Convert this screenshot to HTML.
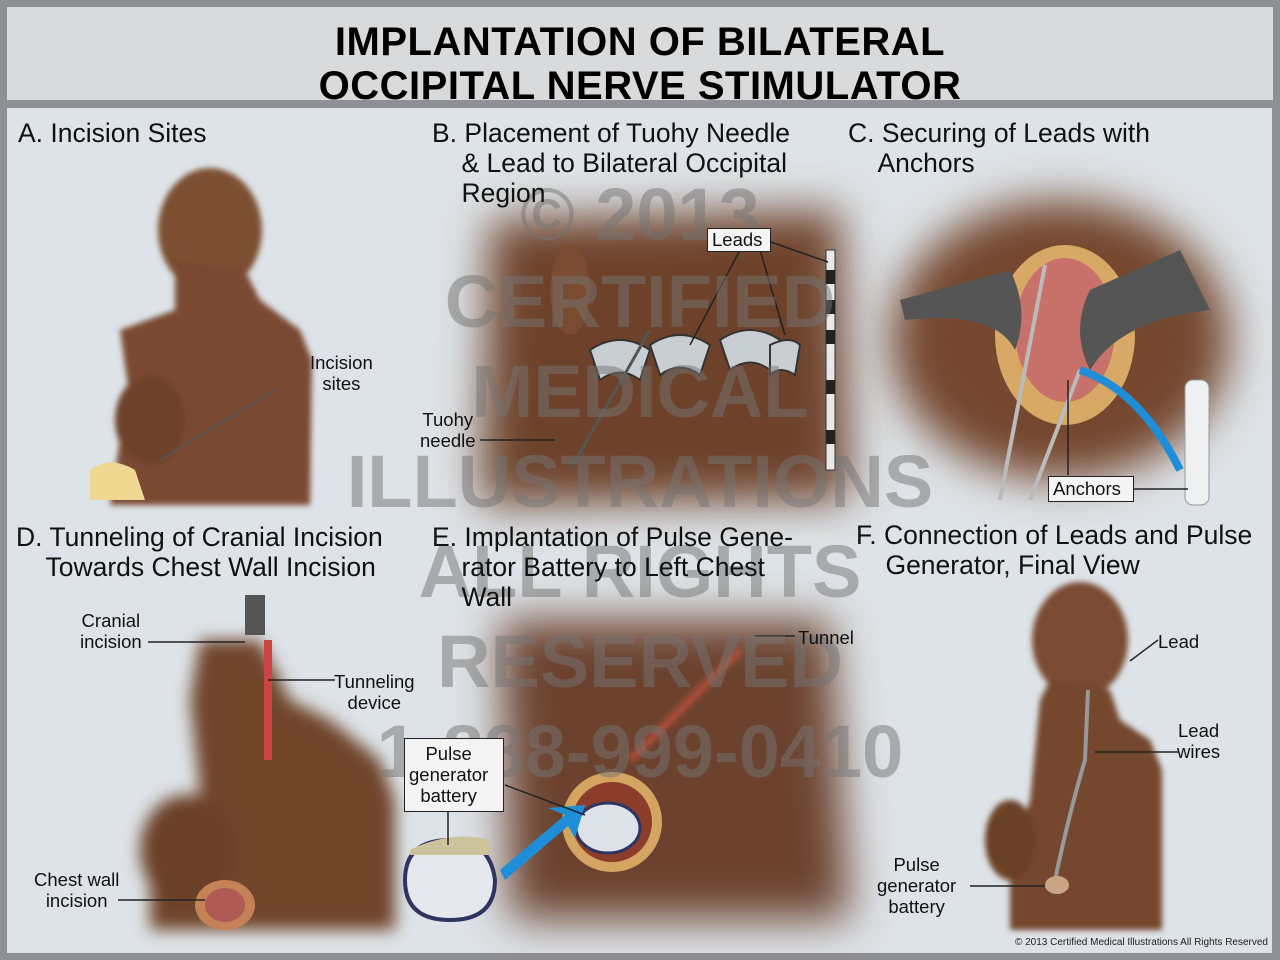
<!DOCTYPE html>
<html><head><meta charset="utf-8"><style>
html,body{margin:0;padding:0}
body{width:1280px;height:960px;background:#8e9095;position:relative;overflow:hidden;font-family:"Liberation Sans",sans-serif}
#title{position:absolute;left:7px;top:7px;width:1266px;height:93px;background:#d9dadc;text-align:center;font-weight:bold;font-size:40px;line-height:44px;color:#000;letter-spacing:0.5px}
#main{position:absolute;left:7px;top:108px;width:1265px;height:845px;background:#dde3e8}
.t{position:absolute;font-size:26.5px;color:#111;line-height:30px;white-space:nowrap}
.l{position:absolute;font-size:18.5px;color:#111;line-height:21px;text-align:center;white-space:nowrap}
.box{position:absolute;border:1.5px solid #222;background:#f4f4f4}
svg{position:absolute;left:0;top:0}
.wm{position:absolute;left:0;width:1280px;text-align:center;font-size:74px;font-weight:bold;color:rgba(115,115,115,0.5);line-height:74px}
</style></head><body>
<div id="title"><div style="padding-top:13px">IMPLANTATION OF BILATERAL<br>OCCIPITAL NERVE STIMULATOR</div></div>
<div id="main"></div>
<svg width="1280" height="960">
<defs>
<filter id="b8" x="-50%" y="-50%" width="200%" height="200%"><feGaussianBlur stdDeviation="8"/></filter>
<filter id="b20" x="-50%" y="-50%" width="200%" height="200%"><feGaussianBlur stdDeviation="22"/></filter>
<filter id="b3" x="-50%" y="-50%" width="200%" height="200%"><feGaussianBlur stdDeviation="3"/></filter>
</defs>
<!-- A -->
<g filter="url(#b3)">
<ellipse cx="210" cy="230" rx="52" ry="62" fill="#7d4f33"/>
<path d="M175 260 L245 270 L260 300 L300 330 L312 360 L310 505 L110 505 L120 440 L130 400 L120 330 L175 310 Z" fill="#7a4a30"/>
<ellipse cx="150" cy="420" rx="35" ry="45" fill="#6e4229"/>
</g>
<path d="M90 470 q20-15 45 0 l10 30 l-55 0 z" fill="#f0d893"/>
<line x1="160" y1="460" x2="275" y2="390" stroke="#555" stroke-width="2"/>
<!-- B -->
<g filter="url(#b20)"><path d="M490 220 L840 210 L850 500 L480 505 Z" fill="#6e432b"/></g>
<ellipse cx="570" cy="290" rx="20" ry="45" fill="#7a4b31"/>
<g fill="#c9ced3" stroke="#333" stroke-width="2"><path d="M590 350 q30-20 60 0 l-10 30 q-20-15-40 0z"/><path d="M650 345 q30-20 60 0 l-10 30 q-20-15-40 0z"/><path d="M720 340 q30-20 60 0 l-10 30 q-20-15-40 0z"/><path d="M770 345 q20-10 30 0 l-5 30 q-15-10-25 0z"/></g>
<line x1="570" y1="470" x2="650" y2="330" stroke="#555" stroke-width="3"/>
<rect x="826" y="250" width="9" height="220" fill="#e8e8e8" stroke="#333"/>
<g fill="#222"><rect x="826" y="270" width="9" height="14"/><rect x="826" y="300" width="9" height="14"/><rect x="826" y="330" width="9" height="14"/><rect x="826" y="380" width="9" height="14"/><rect x="826" y="430" width="9" height="14"/></g>
<polyline points="740,250 690,345" stroke="#222" fill="none" stroke-width="1.5"/><polyline points="760,250 785,335" stroke="#222" fill="none" stroke-width="1.5"/><polyline points="765,240 828,262" stroke="#222" fill="none" stroke-width="1.5"/>
<polyline points="480,440 555,440" stroke="#222" fill="none" stroke-width="1.5"/>
<!-- C -->
<g filter="url(#b20)"><ellipse cx="1060" cy="340" rx="170" ry="140" fill="#74462d"/></g>
<ellipse cx="1065" cy="335" rx="70" ry="90" fill="#d7a866"/>
<ellipse cx="1065" cy="330" rx="50" ry="72" fill="#c8706a"/>
<path d="M900 300 L1010 270 q20 40 5 80 q-20-40-110-30z" fill="#555"/>
<path d="M1180 250 L1090 290 q-20 40 0 80 q30-50 120-60z" fill="#555"/>
<path d="M1045 265 L1000 500 M1080 370 L1030 500" stroke="#bbb" stroke-width="4"/>
<path d="M1180 470 q-40-80 -100-100" stroke="#1e8ed8" stroke-width="8" fill="none"/>
<rect x="1185" y="380" width="24" height="125" rx="8" fill="#eef0f2" stroke="#999"/>
<polyline points="1068,380 1068,475" stroke="#222" fill="none" stroke-width="1.5"/><polyline points="1132,489 1188,489" stroke="#222" fill="none" stroke-width="1.5"/>
<!-- D -->
<g filter="url(#b8)">
<path d="M200 640 L260 640 L290 700 L330 720 L380 760 L395 800 L395 930 L150 930 L150 850 L200 790 L190 700 Z" fill="#70452c"/>
<ellipse cx="185" cy="850" rx="45" ry="55" fill="#6a3f28"/>
</g>
<ellipse cx="225" cy="905" rx="30" ry="25" fill="#c48256"/><ellipse cx="225" cy="905" rx="20" ry="17" fill="#b05a55"/>
<line x1="268" y1="640" x2="268" y2="760" stroke="#c44" stroke-width="8"/>
<path d="M245 595 l20 0 l0 40 l-20 0z" fill="#555"/>
<polyline points="148,642 245,642" stroke="#222" fill="none" stroke-width="1.5"/><polyline points="268,680 335,680" stroke="#222" fill="none" stroke-width="1.5"/><polyline points="118,900 205,900" stroke="#222" fill="none" stroke-width="1.5"/>
<!-- E -->
<g filter="url(#b20)"><path d="M500 620 L830 620 L850 920 L510 920 Z" fill="#6c432d"/></g>
<path d="M630 760 q60-60 110-110" stroke="#c8503a" stroke-width="8" fill="none" opacity="0.7" filter="url(#b3)"/>
<ellipse cx="612" cy="822" rx="50" ry="50" fill="#d4a462"/><ellipse cx="612" cy="822" rx="40" ry="40" fill="#8c3c2a"/>
<ellipse cx="608" cy="828" rx="32" ry="25" fill="#dde2e8" stroke="#2e3560" stroke-width="3"/>
<path d="M405 880 q0-40 45-40 q40 0 45 40 q0 40 -45 40 q-45 0-45-40z" fill="#e5e8ec" stroke="#2e3560" stroke-width="4"/>
<path d="M410 850 q40-20 80 -10 l0 15 l-80 0z" fill="#cdc39a"/>
<path d="M500 870 L565 815 L548 808 L585 805 L575 838 L568 826 L505 880z" fill="#1e8ed8"/>
<polyline points="755,636 795,636" stroke="#222" fill="none" stroke-width="1.5"/>
<polyline points="448,812 448,845" stroke="#222" fill="none" stroke-width="1.5"/><polyline points="505,785 585,815" stroke="#222" fill="none" stroke-width="1.5"/>
<!-- F -->
<g filter="url(#b3)">
<ellipse cx="1080" cy="640" rx="48" ry="58" fill="#7a4c32"/>
<path d="M1050 680 L1110 690 L1120 720 L1150 740 L1162 770 L1162 930 L1010 930 L1010 860 L1030 800 L1040 700 Z" fill="#74472e"/>
<ellipse cx="1010" cy="840" rx="25" ry="40" fill="#6a3f28"/>
</g>
<path d="M1088 690 L1085 760 Q1070 810 1055 880" stroke="#999" stroke-width="4" fill="none"/>
<ellipse cx="1057" cy="885" rx="12" ry="9" fill="#c9a586"/>
<polyline points="1130,661 1158,640" stroke="#222" fill="none" stroke-width="1.5"/><polyline points="1095,752 1178,752" stroke="#222" fill="none" stroke-width="1.5"/><polyline points="970,886 1045,886" stroke="#222" fill="none" stroke-width="1.5"/>
</svg>
<div class="wm" style="top:178px">© 2013</div>
<div class="wm" style="top:265px">CERTIFIED</div>
<div class="wm" style="top:355px">MEDICAL</div>
<div class="wm" style="top:445px">ILLUSTRATIONS</div>
<div class="wm" style="top:535px">ALL RIGHTS</div>
<div class="wm" style="top:625px">RESERVED</div>
<div class="wm" style="top:715px">1-888-999-0410</div>

<div class="t" style="left:18px;top:118px">A. Incision Sites</div>
<div class="t" style="left:432px;top:118px">B. Placement of Tuohy Needle<br>&nbsp;&nbsp;&nbsp;&nbsp;&amp; Lead to Bilateral Occipital<br>&nbsp;&nbsp;&nbsp;&nbsp;Region</div>
<div class="t" style="left:848px;top:118px">C. Securing of Leads with<br>&nbsp;&nbsp;&nbsp;&nbsp;Anchors</div>
<div class="t" style="left:16px;top:522px">D. Tunneling of Cranial Incision<br>&nbsp;&nbsp;&nbsp;&nbsp;Towards Chest Wall Incision</div>
<div class="t" style="left:432px;top:522px">E. Implantation of Pulse Gene-<br>&nbsp;&nbsp;&nbsp;&nbsp;rator Battery to Left Chest<br>&nbsp;&nbsp;&nbsp;&nbsp;Wall</div>
<div class="t" style="left:856px;top:520px">F. Connection of Leads and Pulse<br>&nbsp;&nbsp;&nbsp;&nbsp;Generator, Final View</div>

<div class="l" style="left:310px;top:352px">Incision<br>sites</div>
<div class="box" style="left:707px;top:228px;width:62px;height:22px"></div><div class="l" style="left:712px;top:229px">Leads</div>
<div class="l" style="left:420px;top:409px">Tuohy<br>needle</div>
<div class="box" style="left:1048px;top:476px;width:84px;height:24px"></div><div class="l" style="left:1053px;top:478px">Anchors</div>
<div class="l" style="left:80px;top:610px">Cranial<br>incision</div>
<div class="l" style="left:334px;top:671px">Tunneling<br>device</div>
<div class="l" style="left:34px;top:869px">Chest wall<br>incision</div>
<div class="l" style="left:798px;top:627px">Tunnel</div>
<div class="box" style="left:404px;top:738px;width:98px;height:72px"></div><div class="l" style="left:409px;top:743px">Pulse<br>generator<br>battery</div>
<div class="l" style="left:1158px;top:631px">Lead</div>
<div class="l" style="left:1177px;top:720px">Lead<br>wires</div>
<div class="l" style="left:877px;top:854px">Pulse<br>generator<br>battery</div>
<div style="position:absolute;right:12px;top:937px;font-size:10px;color:#222">© 2013 Certified Medical Illustrations All Rights Reserved</div>
</body></html>
